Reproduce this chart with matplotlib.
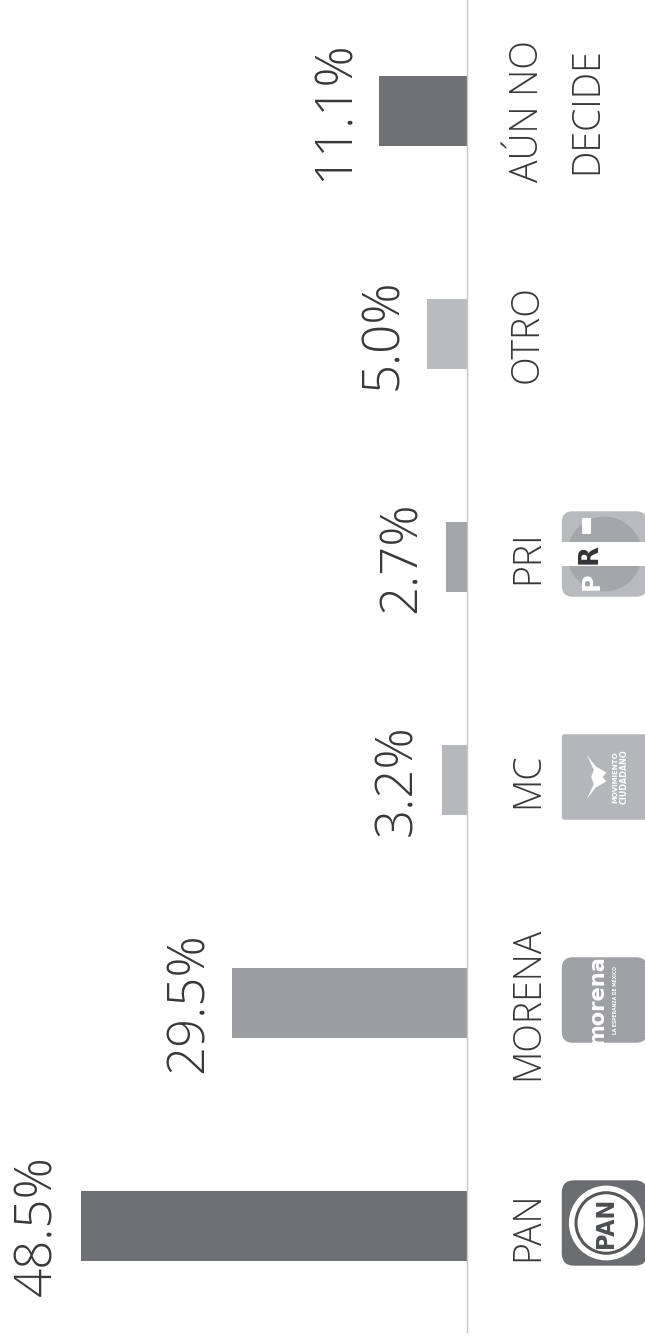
import matplotlib
matplotlib.use("Agg")
import matplotlib.pyplot as plt
from matplotlib.patches import FancyBboxPatch, Circle, Rectangle, Polygon

# ---- data ----
categories = ["PAN", "MORENA", "MC", "PRI", "OTRO", "AÚN NO\nDECIDE"]
values = [48.5, 29.5, 3.2, 2.7, 5.0, 11.1]
value_labels = ["48.5%", "29.5%", "3.2%", "2.7%", "5.0%", "11.1%"]
bar_colors = ["#6d6f72", "#9c9ea1", "#b6b8bb", "#a3a5a8", "#b9bbbe", "#6f7174"]
logos = ["PAN", "morena", "MC", "PRI", None, None]

# ---- layout ----
W, H, DPI = 645, 1338, 100
PT = 72 / DPI
ZERO_PX = 467
PX_PER_PCT = 7.95
SPACING = 223
FIRST_PX = 112
FONT = ["Open Sans", "DejaVu Sans"]
TEXT_COLOR = "#38383a"

fig = plt.figure(figsize=(W / DPI, H / DPI), dpi=DPI)
fig.patch.set_facecolor("white")
ax = fig.add_axes([0, 0, 1, 1])
ax.set_xlim(ZERO_PX / PX_PER_PCT, -(W - ZERO_PX) / PX_PER_PCT)
ax.set_ylim(-FIRST_PX / SPACING, (H - FIRST_PX) / SPACING)
ax.axis("off")

ypos = list(range(len(categories)))
ax.barh(ypos, values, height=70 / SPACING, color=bar_colors, edgecolor="none", zorder=2)
ax.axvline(0, ymin=6 / H, ymax=1, color="#c6c6c6", lw=1.0, zorder=3)

for i, (v, lab) in enumerate(zip(values, value_labels)):
    ax.annotate(lab, xy=(v, i), xytext=(-30 * PT, 0), textcoords="offset points",
                rotation=90, rotation_mode="anchor", ha="center", va="baseline",
                fontsize=51 * PT, color=TEXT_COLOR, family=FONT, fontweight="light")

for i, cat in enumerate(categories):
    for k, line in enumerate(cat.split("\n")):
        ax.annotate(line, xy=(0, i), xytext=((71 + 59 * k) * PT, 0), textcoords="offset points",
                    rotation=90, rotation_mode="anchor", ha="center", va="baseline",
                    fontsize=37.5 * PT, color=TEXT_COLOR, family=FONT, fontweight="light")

# ---- logos (decorative) ----
fig.canvas.draw()
SIZE = 89
for i, logo in enumerate(logos):
    if logo is None:
        continue
    x0, yc = ax.transData.transform((0, i))
    left = x0 + 93
    bottom = yc - SIZE / 2 + 3
    la = fig.add_axes([left / W, bottom / H, SIZE / W, SIZE / H])
    la.set_xlim(0, 1)
    la.set_ylim(0, 1)
    la.axis("off")
    if logo == "PAN":
        la.add_patch(FancyBboxPatch((0.02, 0.02), 0.96, 0.96,
                                    boxstyle="round,pad=0,rounding_size=0.14",
                                    fc="#6b6d70", ec="none"))
        la.add_patch(Circle((0.52, 0.5), 0.42, fc="white", ec="none"))
        la.add_patch(Circle((0.52, 0.5), 0.34, fc="white", ec="#555759", lw=2.2))
        la.text(0.52, 0.5, "PAN", rotation=90, ha="center", va="center",
                fontsize=25 * PT, fontweight="bold", color="#4c4e51",
                family="DejaVu Sans", fontstretch="condensed")
    elif logo == "morena":
        la.add_patch(FancyBboxPatch((0.02, 0.02), 0.96, 0.96,
                                    boxstyle="round,pad=0,rounding_size=0.12",
                                    fc="#9fa0a3", ec="none"))
        la.text(0.42, 0.5, "morena", rotation=90, ha="center", va="center",
                fontsize=21 * PT, fontweight="bold", color="white", family="DejaVu Sans")
        la.text(0.62, 0.5, "LA ESPERANZA DE MÉXICO", rotation=90, ha="center", va="center",
                fontsize=4.5 * PT, fontweight="bold", color="white", family="DejaVu Sans")
    elif logo == "MC":
        la.add_patch(FancyBboxPatch((0.02, 0.02), 0.96, 0.96,
                                    boxstyle="round,pad=0,rounding_size=0.03",
                                    fc="#b5b6b9", ec="none"))
        la.add_patch(Polygon([(0.30, 0.75), (0.40, 0.62), (0.52, 0.55), (0.48, 0.50),
                              (0.52, 0.45), (0.40, 0.38), (0.30, 0.25), (0.38, 0.42),
                              (0.35, 0.50), (0.38, 0.58)], closed=True, fc="white", ec="none"))
        la.text(0.62, 0.5, "MOVIMIENTO", rotation=90, ha="center", va="center",
                fontsize=7 * PT, fontweight="bold", color="white", family="DejaVu Sans")
        la.text(0.72, 0.5, "CIUDADANO", rotation=90, ha="center", va="center",
                fontsize=8 * PT, fontweight="bold", color="white", family="DejaVu Sans")
    elif logo == "PRI":
        la.add_patch(FancyBboxPatch((0.02, 0.02), 0.96, 0.96,
                                    boxstyle="round,pad=0,rounding_size=0.12",
                                    fc="#b9babd", ec="none"))
        la.add_patch(Circle((0.5, 0.5), 0.42, fc="#a5a6a9", ec="none"))
        la.add_patch(Rectangle((0.0, 0.36), 1.0, 0.28, fc="white", ec="none"))
        la.text(0.33, 0.5, "R", rotation=90, ha="center", va="center",
                fontsize=26 * PT, fontweight="bold", color="#333335", family="DejaVu Sans")
        la.text(0.36, 0.2, "P", rotation=90, ha="center", va="center",
                fontsize=24 * PT, fontweight="bold", color="white", family="DejaVu Sans")
        la.add_patch(Rectangle((0.25, 0.72), 0.10, 0.18, fc="white", ec="none"))

fig.savefig("out.png", dpi=DPI, facecolor="white")
